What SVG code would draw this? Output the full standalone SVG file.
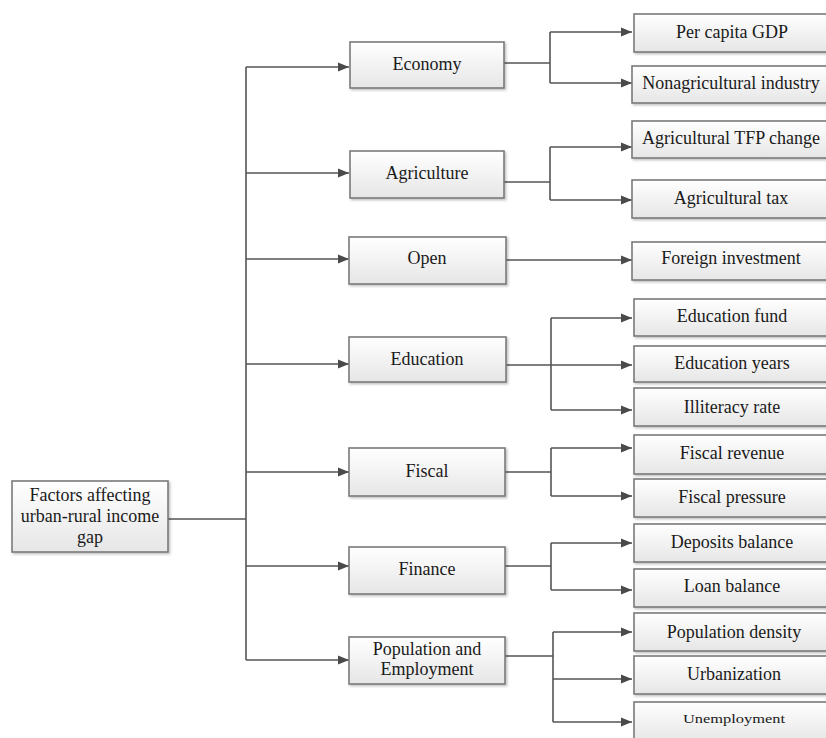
<svg xmlns="http://www.w3.org/2000/svg" width="826" height="738" viewBox="0 0 826 738">
<defs>
<linearGradient id="g" x1="0" y1="0" x2="0" y2="1">
<stop offset="0" stop-color="#ffffff"/>
<stop offset="1" stop-color="#e6e6e6"/>
</linearGradient>
<filter id="sh" x="-5%" y="-10%" width="115%" height="130%">
<feDropShadow dx="1.5" dy="1.5" stdDeviation="1" flood-color="#000" flood-opacity="0.25"/>
</filter>
<marker id="ar" markerUnits="userSpaceOnUse" markerWidth="12" markerHeight="10" refX="11" refY="5" orient="auto">
<path d="M0,0.5 L11,5 L0,9.5 Z" fill="#4a4a4a"/>
</marker>
<style>
.b{fill:url(#g);stroke:#7a7a7a;stroke-width:1.6;filter:url(#sh)}
.t{font-family:"Liberation Serif","Times New Roman",serif;font-size:18px;fill:#1a1a1a;text-anchor:middle}
.c{fill:none;stroke:#555;stroke-width:1.6}
.a{marker-end:url(#ar)}
</style>
</defs>
<rect width="826" height="738" fill="#fff"/>
<g id="connectors">
<path class="c" d="M168,519 H246 M246,67 V660"/>
<path class="c a" d="M246,67 H349"/>
<path class="c a" d="M246,173 H349"/>
<path class="c a" d="M246,259 H349"/>
<path class="c a" d="M246,364 H349"/>
<path class="c a" d="M246,472 H349"/>
<path class="c a" d="M246,566 H349"/>
<path class="c a" d="M246,660 H349"/>
<path class="c" d="M504,63 H550 M550,32 V83"/>
<path class="c a" d="M550,32 H632"/>
<path class="c a" d="M550,83 H632"/>
<path class="c" d="M504,182 H550 M550,147 V200"/>
<path class="c a" d="M550,147 H632"/>
<path class="c a" d="M550,200 H632"/>
<path class="c a" d="M505,260 H632"/>
<path class="c" d="M551,318 V410"/>
<path class="c a" d="M505,365 H632"/>
<path class="c a" d="M551,318 H632"/>
<path class="c a" d="M551,410 H632"/>
<path class="c" d="M505,472 H551 M551,448 V496"/>
<path class="c a" d="M551,448 H632"/>
<path class="c a" d="M551,496 H632"/>
<path class="c" d="M505,566 H551 M551,543 V590"/>
<path class="c a" d="M551,543 H632"/>
<path class="c a" d="M551,590 H632"/>
<path class="c" d="M505,656 H553 M553,632 V722"/>
<path class="c a" d="M553,632 H632"/>
<path class="c a" d="M553,679 H632"/>
<path class="c a" d="M553,722 H632"/>
</g>
<g id="root"><rect class="b" x="12" y="481" width="156" height="71"/>
<text class="t" x="90" y="501">Factors affecting</text>
<text class="t" x="90" y="522">urban-rural income</text>
<text class="t" x="90" y="543">gap</text></g>
<g id="economy"><rect class="b" x="350" y="42" width="154" height="46"/><text class="t" x="427" y="70">Economy</text></g>
<g id="agriculture"><rect class="b" x="350" y="151" width="154" height="47"/><text class="t" x="427" y="179">Agriculture</text></g>
<g id="open"><rect class="b" x="349" y="237" width="157" height="47"/><text class="t" x="427" y="264">Open</text></g>
<g id="education"><rect class="b" x="349" y="337" width="157" height="45"/><text class="t" x="427" y="365">Education</text></g>
<g id="fiscal"><rect class="b" x="349" y="448" width="156" height="48"/><text class="t" x="427" y="477">Fiscal</text></g>
<g id="finance"><rect class="b" x="349" y="547" width="156" height="47"/><text class="t" x="427" y="575">Finance</text></g>
<g id="population"><rect class="b" x="349" y="637" width="156" height="47"/>
<text class="t" x="427" y="655">Population and</text>
<text class="t" x="427" y="675">Employment</text></g>
<g id="per-capita-gdp"><rect class="b" x="634" y="14" width="200" height="38"/><text class="t" x="732" y="38">Per capita GDP</text></g>
<g id="nonagricultural-industry"><rect class="b" x="632" y="66" width="200" height="37"/><text class="t" x="731" y="89">Nonagricultural industry</text></g>
<g id="agricultural-tfp-change"><rect class="b" x="632" y="121" width="200" height="37"/><text class="t" x="731" y="144">Agricultural TFP change</text></g>
<g id="agricultural-tax"><rect class="b" x="632" y="180" width="200" height="38"/><text class="t" x="731" y="204">Agricultural tax</text></g>
<g id="foreign-investment"><rect class="b" x="632" y="242" width="200" height="38"/><text class="t" x="731" y="264">Foreign investment</text></g>
<g id="education-fund"><rect class="b" x="634" y="299" width="200" height="37"/><text class="t" x="732" y="322">Education fund</text></g>
<g id="education-years"><rect class="b" x="634" y="346" width="200" height="36"/><text class="t" x="732" y="369">Education years</text></g>
<g id="illiteracy-rate"><rect class="b" x="634" y="388" width="200" height="38"/><text class="t" x="732" y="413">Illiteracy rate</text></g>
<g id="fiscal-revenue"><rect class="b" x="634" y="435" width="200" height="39"/><text class="t" x="732" y="459">Fiscal revenue</text></g>
<g id="fiscal-pressure"><rect class="b" x="634" y="479" width="200" height="38"/><text class="t" x="732" y="503">Fiscal pressure</text></g>
<g id="deposits-balance"><rect class="b" x="634" y="524" width="200" height="38"/><text class="t" x="732" y="548">Deposits balance</text></g>
<g id="loan-balance"><rect class="b" x="634" y="569" width="200" height="38"/><text class="t" x="732" y="592">Loan balance</text></g>
<g id="population-density"><rect class="b" x="634" y="613" width="200" height="38"/><text class="t" x="734" y="638">Population density</text></g>
<g id="urbanization"><rect class="b" x="634" y="656" width="200" height="38"/><text class="t" x="734" y="680">Urbanization</text></g>
<g id="unemployment"><rect class="b" x="634" y="702" width="200" height="40"/><text class="t" x="734" y="723" style="font-size:12px" textLength="102" lengthAdjust="spacingAndGlyphs">Unemployment</text></g>
</svg>
